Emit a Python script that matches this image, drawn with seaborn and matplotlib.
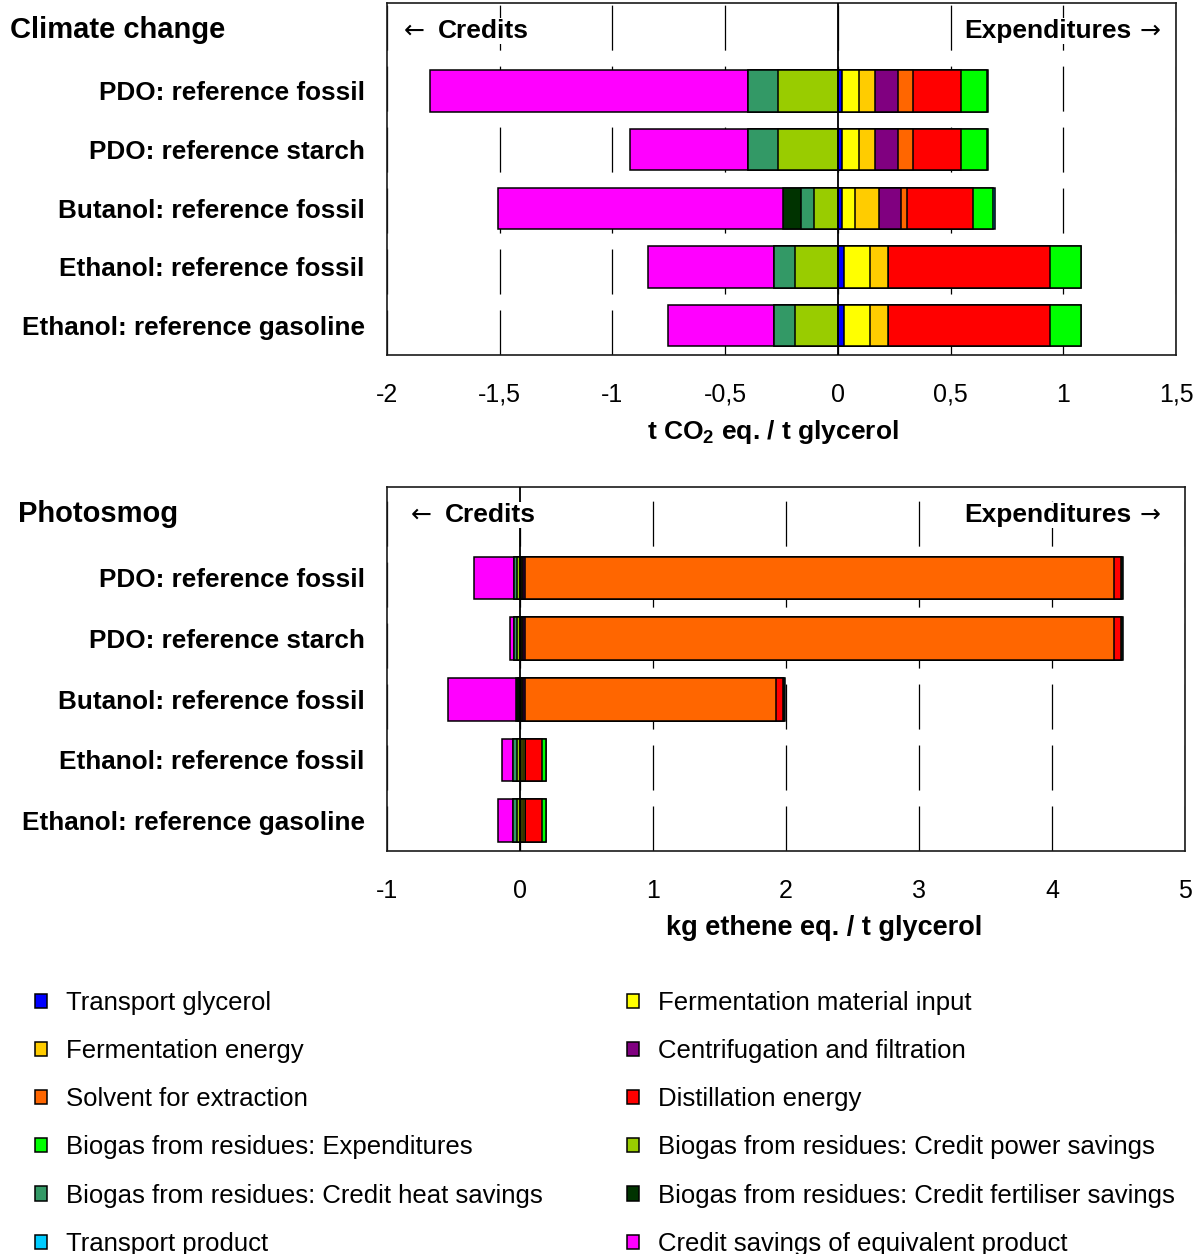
import matplotlib
matplotlib.use("Agg")
import matplotlib.pyplot as plt
from matplotlib.patches import Patch
import numpy as np
import seaborn as sns

# ---- categories -------------------------------------------------------------
categories = [
    "PDO: reference fossil",
    "PDO: reference starch",
    "Butanol: reference fossil",
    "Ethanol: reference fossil",
    "Ethanol: reference gasoline",
]

# ---- climate change, t CO2 eq. / t glycerol ---------------------------------
cc_transport_glycerol = [0.020, 0.020, 0.020, 0.027, 0.027]
cc_ferm_material = [0.075, 0.075, 0.058, 0.115, 0.115]
cc_ferm_energy = [0.070, 0.070, 0.106, 0.080, 0.080]
cc_centrifugation = [0.100, 0.100, 0.097, 0.0, 0.0]
cc_solvent = [0.070, 0.070, 0.027, 0.0, 0.0]
cc_distillation = [0.210, 0.210, 0.292, 0.718, 0.718]
cc_biogas_exp = [0.115, 0.115, 0.089, 0.140, 0.140]
cc_transport_product = [0.004, 0.004, 0.006, 0.0, 0.0]
cc_biogas_power = [-0.266, -0.266, -0.106, -0.191, -0.191]
cc_biogas_heat = [-0.133, -0.133, -0.058, -0.093, -0.093]
cc_biogas_fert = [0.0, 0.0, -0.080, 0.0, 0.0]
cc_credit_product = [-1.409, -0.521, -1.262, -0.558, -0.469]

# ---- photosmog, kg ethene eq. / t glycerol ----------------------------------
ps_transport_glycerol = [0.005, 0.005, 0.005, 0.010, 0.010]
ps_ferm_material = [0.010, 0.010, 0.010, 0.015, 0.015]
ps_ferm_energy = [0.010, 0.010, 0.010, 0.010, 0.010]
ps_centrifugation = [0.015, 0.015, 0.010, 0.0, 0.0]
ps_solvent = [4.426, 4.426, 1.890, 0.0, 0.0]
ps_distillation = [0.050, 0.050, 0.050, 0.130, 0.130]
ps_biogas_exp = [0.010, 0.010, 0.010, 0.030, 0.030]
ps_transport_product = [0.005, 0.005, 0.005, 0.0, 0.0]
ps_biogas_power = [-0.020, -0.020, -0.007, -0.020, -0.020]
ps_biogas_heat = [-0.025, -0.025, -0.008, -0.030, -0.030]
ps_biogas_fert = [0.0, 0.0, -0.015, 0.0, 0.0]
ps_credit_product = [-0.300, -0.030, -0.510, -0.085, -0.115]

# ---- components (legend order) ---------------------------------------------
labels = [
    "Transport glycerol", "Fermentation material input",
    "Fermentation energy", "Centrifugation and filtration",
    "Solvent for extraction", "Distillation energy",
    "Biogas from residues: Expenditures", "Biogas from residues: Credit power savings",
    "Biogas from residues: Credit heat savings", "Biogas from residues: Credit fertiliser savings",
    "Transport product", "Credit savings of equivalent product",
]
colors = {
    "Transport glycerol": "#0000FF",
    "Fermentation material input": "#FFFF00",
    "Fermentation energy": "#FFCC00",
    "Centrifugation and filtration": "#800080",
    "Solvent for extraction": "#FF6600",
    "Distillation energy": "#FF0000",
    "Biogas from residues: Expenditures": "#00FF00",
    "Biogas from residues: Credit power savings": "#99CC00",
    "Biogas from residues: Credit heat savings": "#339966",
    "Biogas from residues: Credit fertiliser savings": "#003300",
    "Transport product": "#00CCFF",
    "Credit savings of equivalent product": "#FF00FF",
}

pos_order = ["Transport glycerol", "Fermentation material input", "Fermentation energy",
             "Centrifugation and filtration", "Solvent for extraction", "Distillation energy",
             "Biogas from residues: Expenditures", "Transport product"]
neg_order = ["Biogas from residues: Credit power savings", "Biogas from residues: Credit heat savings",
             "Biogas from residues: Credit fertiliser savings", "Credit savings of equivalent product"]

cc_data = {
    "Transport glycerol": cc_transport_glycerol,
    "Fermentation material input": cc_ferm_material,
    "Fermentation energy": cc_ferm_energy,
    "Centrifugation and filtration": cc_centrifugation,
    "Solvent for extraction": cc_solvent,
    "Distillation energy": cc_distillation,
    "Biogas from residues: Expenditures": cc_biogas_exp,
    "Transport product": cc_transport_product,
    "Biogas from residues: Credit power savings": cc_biogas_power,
    "Biogas from residues: Credit heat savings": cc_biogas_heat,
    "Biogas from residues: Credit fertiliser savings": cc_biogas_fert,
    "Credit savings of equivalent product": cc_credit_product,
}
ps_data = {
    "Transport glycerol": ps_transport_glycerol,
    "Fermentation material input": ps_ferm_material,
    "Fermentation energy": ps_ferm_energy,
    "Centrifugation and filtration": ps_centrifugation,
    "Solvent for extraction": ps_solvent,
    "Distillation energy": ps_distillation,
    "Biogas from residues: Expenditures": ps_biogas_exp,
    "Transport product": ps_transport_product,
    "Biogas from residues: Credit power savings": ps_biogas_power,
    "Biogas from residues: Credit heat savings": ps_biogas_heat,
    "Biogas from residues: Credit fertiliser savings": ps_biogas_fert,
    "Credit savings of equivalent product": ps_credit_product,
}

cc_ticks = [-2, -1.5, -1, -0.5, 0, 0.5, 1, 1.5]
cc_ticklabels = ["-2", "-1,5", "-1", "-0,5", "0", "0,5", "1", "1,5"]
ps_ticks = [-1, 0, 1, 2, 3, 4, 5]
ps_ticklabels = ["-1", "0", "1", "2", "3", "4", "5"]

# ---- style ------------------------------------------------------------------
sns.set_style("white")
plt.rcParams["font.family"] = ["Liberation Sans", "DejaVu Sans"]
plt.rcParams["mathtext.fontset"] = "custom"
plt.rcParams["mathtext.rm"] = "Liberation Sans"
plt.rcParams["mathtext.bf"] = "Liberation Sans:bold"
plt.rcParams["lines.scale_dashes"] = False
for key in ("text.color", "axes.labelcolor", "xtick.color", "ytick.color"):
    plt.rcParams[key] = "black"

W, H = 1197, 1254
fig = plt.figure(figsize=(W / 100, H / 100), dpi=100)


def px_box(left, top, right, bottom):
    return [left / W, 1 - bottom / H, (right - left) / W, (bottom - top) / H]


def stacked(ax, data):
    # cumulative bars drawn outermost first, so inner segments sit on top
    for order in (pos_order, neg_order):
        cum = np.cumsum([data[k] for k in order], axis=0)
        for i in range(len(order) - 1, -1, -1):
            sns.barplot(x=cum[i], y=categories, orient="h", color=colors[order[i]],
                        saturation=1, width=0.7, edgecolor="black", linewidth=1.1,
                        errorbar=None, ax=ax, zorder=3)


def style_axis(ax, xlim, ticks, ticklabels):
    ax.set_xlim(*xlim)
    ax.set_ylim(4.5, -1.5)
    ax.set_xticks(ticks)
    ax.set_xticklabels(ticklabels, fontsize=18)
    ax.set_yticks(range(len(categories)))
    ax.set_yticklabels(categories, fontsize=18.8, fontweight="bold")
    ax.set_xlabel("")
    ax.set_ylabel("")
    ax.tick_params(axis="x", direction="inout", length=10, width=1.1, color="black", pad=15)
    ax.tick_params(axis="y", length=0, pad=16)
    ax.set_axisbelow(True)
    ax.grid(axis="x", color="black", linewidth=0.9, linestyle=(0, (32.4, 11.5)))
    ax.grid(axis="y", visible=False)
    ax.axvline(0, color="black", linewidth=1.3, zorder=4)
    for s in ax.spines.values():
        s.set_visible(True)
        s.set_color("#1a1a1a")
        s.set_linewidth(1.2)


ax1 = fig.add_axes(px_box(387, 3, 1176, 355))
stacked(ax1, cc_data)
style_axis(ax1, (-2, 1.5), cc_ticks, cc_ticklabels)

ax2 = fig.add_axes(px_box(387, 487, 1185, 851))
stacked(ax2, ps_data)
style_axis(ax2, (-1, 5), ps_ticks, ps_ticklabels)

# ---- titles and axis captions ----------------------------------------------
fig.text(10 / W, 1 - 30 / H, "Climate change", fontsize=21, fontweight="bold", va="center", ha="left")
fig.text(18 / W, 1 - 514 / H, "Photosmog", fontsize=21, fontweight="bold", va="center", ha="left")
fig.text(773 / W, 1 - 432 / H, r"t CO$_\mathbf{2}$ eq. / t glycerol", fontsize=19,
         fontweight="bold", va="center", ha="center")
fig.text(824 / W, 1 - 928 / H, "kg ethene eq. / t glycerol", fontsize=19.5,
         fontweight="bold", va="center", ha="center")

# direction hints inside each panel; white boxes hide the grid behind them
box = dict(facecolor="white", edgecolor="none", pad=1)
arrow_font = dict(family="DejaVu Sans", fontsize=18, va="center")
for x_arrow, x_word, y in ((404, 438, 31), (411, 445, 515)):
    fig.text(x_arrow / W, 1 - y / H, "←", ha="left", bbox=box, **arrow_font)
    fig.text(x_word / W, 1 - y / H, "Credits", fontsize=19, fontweight="bold",
             va="center", ha="left", bbox=box)
for y in (31, 515):
    fig.text(1161 / W, 1 - y / H, "→", ha="right", bbox=box, **arrow_font)
    fig.text(1131 / W, 1 - y / H, "Expenditures", fontsize=19, fontweight="bold",
             va="center", ha="right", bbox=box)

# ---- legend: two columns, filled row by row ---------------------------------
def handles_for(names):
    return [Patch(facecolor=colors[n], edgecolor="black", linewidth=1.1, label=n) for n in names]

leg_kw = dict(loc="upper left", frameon=False, fontsize=18.5, handlelength=0.47, handleheight=0.47,
              handletextpad=0.72, labelspacing=0.94, borderpad=0, borderaxespad=0)
col1 = labels[0::2]
col2 = labels[1::2]
fig.legend(handles=handles_for(col1), bbox_to_anchor=(35 / W, 1 - 991 / H), **leg_kw)
fig.legend(handles=handles_for(col2), bbox_to_anchor=(627 / W, 1 - 991 / H), **leg_kw)

fig.savefig("out.png", dpi=100)
